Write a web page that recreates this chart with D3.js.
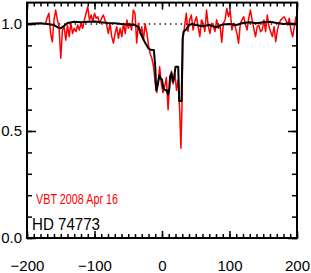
<!DOCTYPE html>
<html>
<head>
<meta charset="utf-8">
<script src="https://cdn.jsdelivr.net/npm/d3@7"></script>
<style>
  body { margin: 0; background: #fff; }
  text { font-family: "Liberation Sans", Arial, sans-serif; }
</style>
</head>
<body>
<svg id="chart" width="311" height="273"></svg>
<script>
// x ticks / y ticks
let xTicks = [-200, -100, 0, 100, 200];
let yTicks = [0, 0.5, 1.0];

// black line (HD 74773), [velocity, flux]
let starLine = [
  [-200, 1.000], [-190, 1.002], [-180, 1.003], [-170, 1.000], [-160, 0.995],
  [-155, 0.985], [-150, 0.980], [-145, 0.992], [-140, 1.005], [-130, 1.010],
  [-120, 1.008], [-110, 1.010], [-100, 1.012], [-90, 1.008], [-80, 1.005],
  [-70, 1.003], [-60, 1.000], [-50, 0.998], [-40, 0.995], [-35, 0.985],
  [-30, 0.945], [-25, 0.912], [-20, 0.885], [-15, 0.878], [-12, 0.878],
  [-10, 0.80], [-8.5, 0.69], [-6, 0.72], [-4, 0.76], [-2, 0.745],
  [0, 0.74], [2, 0.70], [5, 0.69], [7, 0.69], [9, 0.67], [11, 0.70],
  [12, 0.755], [14, 0.77], [16, 0.73], [18, 0.75], [20, 0.80], [24, 0.80],
  [25.5, 0.64], [29, 0.64], [30.5, 0.93], [32, 0.965], [36, 0.975],
  [40, 0.995], [45, 1.000], [50, 0.995], [60, 0.990], [70, 0.995],
  [80, 0.985], [90, 0.998], [100, 1.000], [110, 0.995], [120, 1.005],
  [130, 1.008], [140, 1.003], [150, 1.008], [160, 1.010], [170, 1.005],
  [180, 1.000], [190, 1.002], [200, 1.000]
];

// red line (VBT 2008 Apr 16), [velocity, flux]
let vbtLine = [
  [-172.5, 1.003], [-170, 1.03], [-167.5, 1.050], [-165, 0.955], [-162.5, 0.917],
  [-160, 1.019], [-157.5, 1.065], [-155, 1.019], [-152.5, 0.987], [-150, 0.840],
  [-147.5, 0.972], [-145, 0.987], [-142.5, 0.925], [-140, 0.995], [-137.5, 0.941],
  [-135, 1.003], [-132.5, 0.956], [-130, 0.980], [-127.5, 0.964], [-125, 0.995],
  [-122.5, 0.972], [-120, 1.003], [-117.5, 0.980], [-115, 1.019], [-112.5, 1.050],
  [-110, 1.081], [-107.5, 1.019], [-105, 1.042], [-102.5, 1.011], [-100, 1.050],
  [-97.5, 1.027], [-95, 1.034], [-92.5, 1.003], [-89.5, 1.027], [-87, 1.042],
  [-84.5, 1.019], [-82, 0.995], [-79.5, 0.956], [-77, 1.003], [-74.5, 0.941],
  [-72, 0.911], [-69.5, 0.956], [-67, 0.987], [-64.5, 0.933], [-62, 0.980],
  [-59.5, 0.941], [-57, 1.003], [-54.5, 0.956], [-52, 1.019], [-50, 0.980],
  [-47.5, 1.003], [-45, 0.972], [-42.5, 1.065], [-40, 1.050], [-37.5, 0.911],
  [-35, 1.003], [-32.5, 0.956], [-30, 0.987], [-27.5, 0.925], [-25, 1.000],
  [-22.5, 0.96], [-20, 0.90], [-17.5, 0.86], [-15, 0.84], [-12.5, 0.80],
  [-10, 0.72], [-7.5, 0.68], [-5, 0.75], [-3.5, 0.80], [-1, 0.72],
  [1.5, 0.68], [4, 0.71], [6.5, 0.75], [9, 0.60], [11.5, 0.74],
  [14, 0.78], [16.5, 0.72], [19, 0.77], [21.5, 0.69], [24, 0.74],
  [26.5, 0.57], [28, 0.42], [29.5, 0.60], [31, 0.93], [33.5, 0.99],
  [36, 1.05], [38.5, 0.965], [41, 1.02], [43.5, 1.042], [46, 0.972],
  [48.5, 1.01], [51, 1.034], [53.5, 0.99], [56, 0.941], [58.5, 1.019],
  [61, 1.003], [63.5, 0.965], [66, 1.065], [68.5, 0.99], [71, 0.956],
  [73.5, 1.003], [76, 0.99], [78.5, 0.965], [81, 1.02], [83.5, 0.98],
  [86, 0.995], [88.5, 0.915], [91, 1.003], [93.5, 1.02], [96, 1.073],
  [98.5, 1.034], [101, 1.065], [103.5, 0.972], [106, 1.003], [108.5, 0.987],
  [111, 0.956], [113.5, 0.91], [116, 1.003], [118.5, 1.019], [121, 1.034],
  [123.5, 1.0], [126, 0.972], [128.5, 1.027], [131, 1.065], [133.5, 1.019],
  [136, 0.98], [138.5, 0.941], [141, 0.987], [143.5, 0.995], [146, 0.964],
  [148.5, 0.972], [151, 1.019], [153.5, 0.964], [156, 1.042], [158.5, 0.987],
  [161, 0.964], [163.5, 0.941], [166, 0.987], [168.5, 0.917], [171, 0.972],
  [173.5, 1.003], [176, 1.019], [178.5, 1.027], [181, 1.034], [183.5, 1.019],
  [186, 0.995], [188.5, 1.027], [191, 0.972], [193.5, 0.94], [196, 0.987],
  [198.5, 1.034], [200, 0.987]
];

let svg = d3.select("#chart");

let plotLeft = 27, plotRight = 297, plotTop = 2.6, plotBottom = 238;

let xScale = d3.scaleLinear().domain([-200, 200]).range([plotLeft, plotRight]);
let yScale = d3.scaleLinear().domain([0, 1.1]).range([plotBottom, plotTop]);

let fmtY = d3.format(".1f");

// minor ticks
let xMinor = d3.range(-200, 201, 10);
let yMinor = d3.range(0, 1.1, 0.1);

svg.append("g").attr("transform", "translate(0," + plotBottom + ")")
  .call(d3.axisBottom(xScale).tickValues(xMinor).tickSize(-4).tickFormat(""));
svg.append("g").attr("transform", "translate(0," + plotTop + ")")
  .call(d3.axisTop(xScale).tickValues(xMinor).tickSize(-4).tickFormat(""));
svg.append("g").attr("transform", "translate(" + plotLeft + ",0)")
  .call(d3.axisLeft(yScale).tickValues(yMinor).tickSize(-5).tickFormat(""));
svg.append("g").attr("transform", "translate(" + plotRight + ",0)")
  .call(d3.axisRight(yScale).tickValues(yMinor).tickSize(-5).tickFormat(""));

// major ticks
svg.append("g").attr("transform", "translate(0," + plotBottom + ")")
  .call(d3.axisBottom(xScale).tickValues(xTicks).tickSizeInner(-7).tickSizeOuter(0).tickPadding(22));
svg.append("g").attr("transform", "translate(0," + plotTop + ")")
  .call(d3.axisTop(xScale).tickValues(xTicks).tickSize(-7).tickFormat(""));
svg.append("g").attr("transform", "translate(" + plotLeft + ",0)")
  .call(d3.axisLeft(yScale).tickValues(yTicks).tickSizeInner(-9).tickSizeOuter(0).tickPadding(5).tickFormat(fmtY));
svg.append("g").attr("transform", "translate(" + plotRight + ",0)")
  .call(d3.axisRight(yScale).tickValues(yTicks).tickSize(-9).tickFormat(""));

svg.selectAll(".domain").remove();
svg.selectAll(".tick line").attr("stroke", "#000").attr("stroke-width", 1.5);
svg.selectAll(".tick text")
  .attr("fill", "#000")
  .style("font-size", "15px")
  .style("font-family", "'Liberation Sans', Arial, sans-serif");

// dotted line at 1.0
svg.append("line")
  .attr("x1", xScale(-200)).attr("x2", xScale(200))
  .attr("y1", yScale(1)).attr("y2", yScale(1))
  .attr("stroke", "#000").attr("stroke-width", 1.3)
  .attr("stroke-dasharray", "1.3,4");

let line = d3.line()
  .x(d => xScale(d[0]))
  .y(d => yScale(d[1]));

svg.append("path")
  .datum(vbtLine)
  .attr("d", line)
  .attr("fill", "none")
  .attr("stroke", "#ff0000")
  .attr("stroke-width", 1.5)
  .attr("stroke-linejoin", "round");

svg.append("path")
  .datum(starLine)
  .attr("d", line)
  .attr("fill", "none")
  .attr("stroke", "#000")
  .attr("stroke-width", 2)
  .attr("stroke-linejoin", "round");

// frame
svg.append("rect")
  .attr("x", plotLeft).attr("y", plotTop)
  .attr("width", plotRight - plotLeft).attr("height", plotBottom - plotTop)
  .attr("fill", "none").attr("stroke", "#000").attr("stroke-width", 2);

// labels
svg.append("text")
  .attr("x", 36).attr("y", 204)
  .attr("fill", "#ff0000")
  .attr("textLength", 82).attr("lengthAdjust", "spacingAndGlyphs")
  .style("font-size", "14px")
  .text("VBT 2008 Apr 16");

svg.append("text")
  .attr("x", 32).attr("y", 230)
  .attr("fill", "#000")
  .attr("textLength", 68).attr("lengthAdjust", "spacingAndGlyphs")
  .style("font-size", "17px")
  .text("HD 74773");
</script>
</body>
</html>
